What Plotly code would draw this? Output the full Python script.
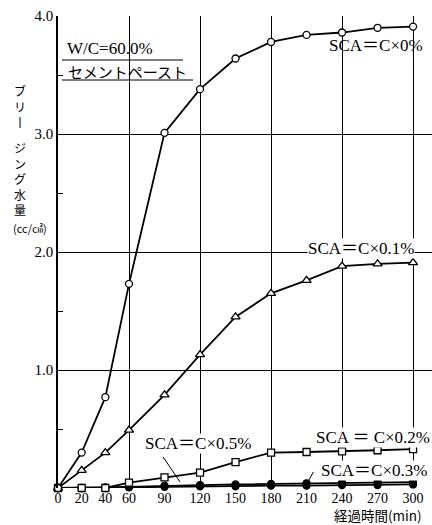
import plotly.graph_objects as go

minutes = [0, 20, 40, 60, 90, 120, 150, 180, 210, 240, 270, 300]
sca_0 = [0, 0.30, 0.77, 1.73, 3.01, 3.38, 3.64, 3.78, 3.84, 3.86, 3.90, 3.91]
sca_01 = [0, 0.15, 0.30, 0.49, 0.79, 1.13, 1.45, 1.65, 1.76, 1.88, 1.90, 1.91]
sca_02 = [0, 0.0, 0.0, 0.045, 0.09, 0.13, 0.22, 0.30, 0.305, 0.31, 0.32, 0.33]
sca_03 = [0, 0.0, 0.005, 0.01, 0.02, 0.025, 0.03, 0.035, 0.04, 0.045, 0.05, 0.05]
sca_05 = [0, 0.0, 0.0, 0.005, 0.01, 0.015, 0.015, 0.02, 0.02, 0.025, 0.025, 0.03]

x_ticks = [0, 20, 40, 60, 90, 120, 150, 180, 210, 240, 270, 300]
y_ticks = [1, 2, 3, 4]
y_ticktext = ["1.0", "2.0", "3.0", "4.0"]

FONT = "Liberation Serif, Noto Sans CJK JP, serif"
JP = "Noto Sans CJK JP, Liberation Serif"

fig = go.Figure()

def add(y, symbol, size, fill):
    fig.add_trace(go.Scatter(
        x=minutes, y=y, mode="lines+markers", cliponaxis=False,
        line=dict(color="black", width=1.8),
        marker=dict(symbol=symbol, size=size, color=fill,
                    line=dict(color="black", width=1.3)),
        showlegend=False))

add(sca_05, "circle", 7, "black")
add(sca_03, "circle", 7, "black")
add(sca_02, "square", 7, "white")
add(sca_01, "triangle-up", 8, "white")
add(sca_0, "circle", 7, "white")

def px_x(px):
    return (px - 58) / 374

def px_y(py):
    return (488 - py) / 472

def note(px, py, text, size, family, **kw):
    fig.add_annotation(xref="paper", yref="paper", x=px_x(px), y=px_y(py), text=text,
                       showarrow=False, xanchor="center", yanchor="middle", borderpad=0,
                       font=dict(size=size, family=family, color="black"), **kw)

# white box behind the title text
fig.add_shape(type="rect", xref="paper", yref="paper",
              x0=px_x(60), x1=px_x(193), y0=px_y(82), y1=px_y(33),
              fillcolor="white", line=dict(width=0), layer="between")
for px_end, py in [(183, 60), (193, 80)]:
    fig.add_shape(type="line", xref="paper", yref="paper",
                  x0=px_x(62), x1=px_x(px_end), y0=px_y(py), y1=px_y(py),
                  line=dict(color="black", width=1.2), layer="above")

note(110, 48, "W/C=60.0%", 17, FONT)
note(127, 71, "セメントペースト", 15, JP)

labels = [
    (269, 3.75, "SCA＝C×0%", "rgba(0,0,0,0)"),
    (256, 2.03, "SCA＝C×0.1%", "white"),
    (118, 0.38, "SCA＝C×0.5%", "white"),
    (266.5, 0.43, "SCA ＝ C×0.2%", "white"),
    (267, 0.15, "SCA＝C×0.3%", "white"),
]
for x, y, t, bg in labels:
    fig.add_annotation(x=x, y=y, text=t, showarrow=False, bgcolor=bg,
                       borderpad=0, font=dict(size=17, family=FONT, color="black"),
                       xanchor="center", yanchor="middle")

for (x0, y0, x1, y1) in [(88.8, 0.263, 103.2, 0.05), (215.7, 0.136, 209.8, 0.025)]:
    fig.add_shape(type="line", x0=x0, y0=y0, x1=x1, y1=y1,
                  line=dict(color="black", width=1), layer="above")

# y-axis title, stacked vertically (split around the 3.0 label)
note(20, 106, "ブ<br>リ<br>丨", 12, JP)
note(20, 179, "ジ<br>ン<br>グ<br>水<br>量", 12, JP)
note(30, 228, "(cc/㎠)", 11, JP)
note(378, 515, "経過時間(min)", 13.5, JP)

fig.update_xaxes(range=[0, 316], tickvals=x_ticks, ticks="", showgrid=False,
                 zeroline=False, showline=False,
                 tickfont=dict(size=14, family=FONT, color="black"),
                 minor=dict(tickmode="linear", tick0=0, dtick=60, showgrid=True,
                            gridcolor="black", gridwidth=1, ticks=""))
fig.update_yaxes(range=[0, 4], tickvals=y_ticks, ticktext=y_ticktext,
                 showgrid=True, gridcolor="black", gridwidth=1,
                 zeroline=False, showline=True, linecolor="black", linewidth=1.5,
                 ticks="inside", ticklen=5, tickcolor="black",
                 tickfont=dict(size=15, family=FONT, color="black"),
                 minor=dict(tickmode="linear", tick0=0, dtick=0.5, ticks="inside",
                            ticklen=5, tickcolor="black", showgrid=False))

fig.update_layout(width=432, height=525, margin=dict(l=58, r=0, t=16, b=37),
                  font=dict(color="black", family=FONT),
                  plot_bgcolor="white", paper_bgcolor="white", showlegend=False)

fig.write_html("out.html")
